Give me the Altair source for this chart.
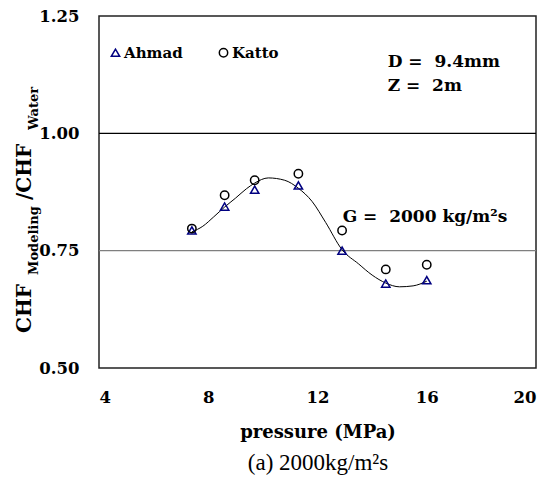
import altair as alt
import pandas as pd

# ---- data ----
pressure = [7.4, 8.6, 9.7, 11.3, 12.9, 14.5, 16.0]
ahmad = [0.793, 0.844, 0.880, 0.889, 0.750, 0.680, 0.687]
katto = [0.797, 0.868, 0.900, 0.914, 0.793, 0.710, 0.720]

curve_p = [7.4, 7.8, 8.2, 8.6, 9.0, 9.4, 9.7, 10.2, 10.8, 11.3, 11.8, 12.3, 12.9, 13.5, 14.0, 14.5, 15.0, 15.5, 16.0]
curve_r = [0.790, 0.802, 0.822, 0.843, 0.862, 0.882, 0.894, 0.905, 0.900, 0.883, 0.855, 0.810, 0.752, 0.722, 0.698, 0.681, 0.673, 0.675, 0.685]

ref_vals = [1.00, 0.75]
ref_cols = ["#000000", "#7f7f7f"]

x_ticks = [4, 8, 12, 16, 20]
y_ticks = [0.50, 0.75, 1.00, 1.25]

NB = "\u00a0"
ann_text = ["D =" + NB + NB + "9.4mm", "Z =" + NB + NB + "2m", "G =" + NB + NB + "2000 kg/m\u00b2s"]
ann_x = [14.57, 14.57, 12.92]
ann_y = [1.152, 1.101, 0.822]

SERIF = "DejaVu Serif"
TIMES = "Liberation Serif"

pts = pd.DataFrame({
    "pressure": pressure * 2,
    "ratio": ahmad + katto,
    "model": ["Ahmad"] * len(pressure) + ["Katto"] * len(pressure),
})
curve = pd.DataFrame({"pressure": curve_p, "ratio": curve_r})
refs = pd.DataFrame({"ratio": ref_vals, "col": ref_cols})
ann = pd.DataFrame({"text": ann_text, "pressure": ann_x, "ratio": ann_y})

xs = alt.Scale(domain=[4, 20], nice=False)
ys = alt.Scale(domain=[0.5, 1.25], nice=False)

xax = alt.Axis(values=x_ticks, title=None, ticks=False, grid=False, domain=False,
               labelFont=SERIF, labelFontWeight="bold", labelFontSize=16.5,
               labelColor="black", labelPadding=21)
yax = alt.Axis(values=y_ticks, format=".2f", title=None, ticks=False, grid=False, domain=False,
               labelFont=SERIF, labelFontWeight="bold", labelFontSize=16.5,
               labelColor="black", labelPadding=20)

base_x = alt.X("pressure:Q", scale=xs, axis=xax)
base_y = alt.Y("ratio:Q", scale=ys, axis=yax)

rules = alt.Chart(refs).mark_rule(strokeWidth=1.3).encode(
    y=alt.Y("ratio:Q", scale=ys), color=alt.Color("col:N", scale=None)
)

line = alt.Chart(curve).mark_line(interpolate="monotone", color="black", strokeWidth=1).encode(
    x=base_x, y=base_y
)

leg = alt.Legend(title=None, orient="none", legendX=9, legendY=29,
                 direction="horizontal", labelFont=SERIF, labelFontSize=15,
                 labelFontWeight="bold", labelColor="black",
                 symbolStrokeWidth=1.5, symbolSize=70, columnPadding=33,
                 labelOffset=1, symbolOpacity=1)
dom = ["Ahmad", "Katto"]
points = alt.Chart(pts).mark_point(filled=False, size=70, strokeWidth=1.5, opacity=1).encode(
    x=alt.X("pressure:Q", scale=xs),
    y=alt.Y("ratio:Q", scale=ys),
    shape=alt.Shape("model:N", scale=alt.Scale(domain=dom, range=["triangle-up", "circle"]), legend=leg),
    color=alt.Color("model:N", scale=alt.Scale(domain=dom, range=["#000080", "#000000"]), legend=leg),
)

annot = alt.Chart(ann).mark_text(align="left", baseline="middle", font=SERIF, fontSize=17,
                                 fontWeight="bold", color="black").encode(
    x=alt.X("pressure:Q", scale=xs), y=alt.Y("ratio:Q", scale=ys), text="text:N"
)

# y-axis title pieces with subscripts
ytitle_df = pd.DataFrame({
    "t": ["CHF", "Modeling", "/CHF", "Water"],
    "px": [-68, -61, -68, -61],
    "py": [317, 259, 184, 114],
    "fs": [20, 13, 20, 13],
})
ytitle = alt.Chart(ytitle_df).mark_text(angle=270, align="left", baseline="alphabetic",
                                        font=SERIF, fontWeight="bold", color="black").encode(
    x=alt.X("px:Q", scale=None), y=alt.Y("py:Q", scale=None), text="t:N",
    size=alt.Size("fs:Q", scale=None)
)

xtitle = alt.Chart(pd.DataFrame({"t": ["pressure (MPa)"]})).mark_text(
    font=SERIF, fontWeight="bold", fontSize=18, color="black", baseline="middle"
).encode(x=alt.value(219), y=alt.value(417), text="t:N")

caption = alt.Chart(pd.DataFrame({"t": ["(a) 2000kg/m\u00b2s"]})).mark_text(
    font=TIMES, fontSize=23, color="black", baseline="middle"
).encode(x=alt.value(219), y=alt.value(447), text="t:N")

chart = alt.layer(rules, line, points, annot, ytitle, xtitle, caption).properties(
    width=437, height=352,
    autosize=alt.AutoSizeParams(type="none"),
    padding={"left": 91, "top": 8, "right": 13, "bottom": 108},
).configure_view(stroke="#222222", strokeWidth=1.5)

chart.save("out.html", embed_options={"renderer": "svg", "actions": False})
